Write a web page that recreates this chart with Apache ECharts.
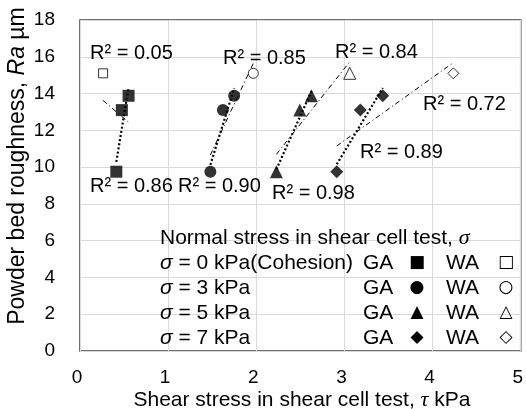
<!DOCTYPE html>
<html><head><meta charset="utf-8">
<script src="https://cdn.jsdelivr.net/npm/echarts@6/dist/echarts.min.js"></script>
<style>html,body{margin:0;padding:0;background:#fff}#c{width:526px;height:409px}</style>
</head><body><div id="c"></div>
<script>
// ---- data ----
const raGA = [9.75, 13.10, 13.88];      // Ra (µm) of the three GA powders
const raWA = [15.10];                   // Ra (µm) of the WA powder
const tauGA0 = [0.412, 0.475, 0.551];   // sigma = 0 kPa (cohesion)
const tauGA3 = [1.479, 1.621, 1.749];   // sigma = 3 kPa
const tauGA5 = [2.228, 2.494, 2.626];   // sigma = 5 kPa
const tauGA7 = [2.913, 3.180, 3.435];   // sigma = 7 kPa
const tauWA0 = [0.262];
const tauWA3 = [1.966];
const tauWA5 = [3.060];
const tauWA7 = [4.236];
const r2GA  = ['R² = 0.86', 'R² = 0.90', 'R² = 0.98', 'R² = 0.89'];
const r2All = ['R² = 0.05', 'R² = 0.85', 'R² = 0.84', 'R² = 0.72'];
const legendRows = ['σ = 0 kPa(Cohesion)', 'σ = 3 kPa', 'σ = 5 kPa', 'σ = 7 kPa'];
const gaGlyphs = ['■', '●', '▲', '◆'];
const waGlyphs = ['□', '○', '△', '◇'];

// ---- layout / style ----
const FONT = "'Liberation Sans', Arial, sans-serif";
const SERIF = "'Liberation Serif', 'Times New Roman', serif";
const gaSym = [['rect', 12], ['circle', 12], ['triangle', 13], ['diamond', 13]];
const waSym = [['rect', 9], ['circle', 10], ['triangle', 12], ['diamond', 11]];
const r2GAPos  = [[90, 186], [178, 186], [272, 193], [360, 152]];
const r2AllPos = [[90, 53], [223, 58], [335, 52], [423, 104]];

function fit(xs, ys) {
  const n = xs.length;
  const mx = xs.reduce((a, b) => a + b, 0) / n;
  const my = ys.reduce((a, b) => a + b, 0) / n;
  let sxy = 0, sxx = 0;
  for (let i = 0; i < n; i++) { sxy += (xs[i] - mx) * (ys[i] - my); sxx += (xs[i] - mx) ** 2; }
  const b = sxy / sxx, a = my - b * mx;
  const x0 = Math.min(...xs), x1 = Math.max(...xs);
  return [[x0, a + b * x0], [x1, a + b * x1]];
}
const zip = (xs, ys) => xs.map((x, i) => [x, ys[i]]);

const gaX = [tauGA0, tauGA3, tauGA5, tauGA7];
const waX = [tauWA0, tauWA3, tauWA5, tauWA7];

const series = [];
for (let k = 0; k < 4; k++) {
  series.push({ type: 'line', data: fit(gaX[k], raGA), symbol: 'none', silent: true, z: 2,
    lineStyle: { color: '#000', width: 2.2, type: [2, 2.2] } });
  series.push({ type: 'line', data: fit(gaX[k].concat(waX[k]), raGA.concat(raWA)), symbol: 'none', silent: true, z: 2,
    lineStyle: { color: '#000', width: 1, type: [5, 3, 1, 3] } });
}
for (let k = 0; k < 4; k++) {
  series.push({ type: 'scatter', data: zip(gaX[k], raGA), symbol: gaSym[k][0], symbolSize: gaSym[k][1], z: 5,
    itemStyle: { color: '#000' } });
  series.push({ type: 'scatter', data: zip(waX[k], raWA), symbol: waSym[k][0], symbolSize: waSym[k][1], z: 5,
    itemStyle: { color: '#fff', borderColor: '#000', borderWidth: 1 } });
}

const graphic = [];
r2GA.forEach((t, i) => graphic.push({ type: 'text', x: r2GAPos[i][0], y: r2GAPos[i][1], z: 10,
  style: { text: t, font: '20px ' + FONT, fill: '#000', verticalAlign: 'middle' } }));
r2All.forEach((t, i) => graphic.push({ type: 'text', x: r2AllPos[i][0], y: r2AllPos[i][1], z: 10,
  style: { text: t, font: '20px ' + FONT, fill: '#000', verticalAlign: 'middle' } }));
// text-box legend
graphic.push({ type: 'text', x: 160, y: 238, z: 10, style: {
  text: 'Normal stress in shear cell test, {s|σ}', font: '21px ' + FONT, fill: '#000', verticalAlign: 'middle',
  rich: { s: { fontStyle: 'italic', fontFamily: SERIF, fontSize: 22 } } } });
legendRows.forEach((t, i) => {
  const y = 263 + i * 25;
  graphic.push({ type: 'text', x: 160, y, z: 10, style: {
    text: '{s|σ}' + t.slice(1), font: '21px ' + FONT, fill: '#000', verticalAlign: 'middle',
    rich: { s: { fontStyle: 'italic', fontFamily: FONT, fontSize: 21 } } } });
  graphic.push({ type: 'text', x: 363, y, z: 10, style: { text: 'GA', font: '21px ' + FONT, fill: '#000', verticalAlign: 'middle' } });
  graphic.push({ type: 'text', x: 417, y, z: 10, style: { text: gaGlyphs[i], font: "17px 'DejaVu Sans'", fill: '#000', align: 'center', verticalAlign: 'middle' } });
  graphic.push({ type: 'text', x: 446, y, z: 10, style: { text: 'WA', font: '21px ' + FONT, fill: '#000', verticalAlign: 'middle' } });
  graphic.push({ type: 'text', x: 506, y, z: 10, style: { text: waGlyphs[i], font: "17px 'DejaVu Sans'", fill: '#000', align: 'center', verticalAlign: 'middle' } });
});
// axis titles
graphic.push({ type: 'text', x: 302, y: 400, z: 10, style: {
  text: 'Shear stress in shear cell test, {s|τ} kPa', font: '21px ' + FONT, fill: '#000', align: 'center', verticalAlign: 'middle',
  rich: { s: { fontStyle: 'italic', fontFamily: SERIF, fontSize: 22 } } } });
graphic.push({ type: 'text', x: 18, y: 166, rotation: Math.PI / 2, z: 10, style: {
  text: 'Powder bed roughness, {i|Ra} µm', font: '23px ' + FONT, fill: '#000', align: 'center', verticalAlign: 'middle',
  rich: { i: { fontStyle: 'italic', fontFamily: FONT, fontSize: 23 } } } });

const chart = echarts.init(document.getElementById('c'), null, { renderer: 'canvas' });
chart.setOption({
  animation: false,
  backgroundColor: '#fff',
  grid: { left: 80, top: 20, right: 1, bottom: 58, show: true, borderColor: '#404040', borderWidth: 1.5, backgroundColor: 'transparent' },
  xAxis: { type: 'value', min: 0, max: 5, interval: 1,
    axisLine: { show: false }, axisTick: { show: false },
    splitLine: { show: true, lineStyle: { color: '#d9d9d9', width: 1 } },
    axisLabel: { fontSize: 19, color: '#000', fontFamily: FONT, margin: 17, padding: [0, 6, 0, 0] } },
  yAxis: { type: 'value', min: 0, max: 18, interval: 2,
    axisLine: { show: false }, axisTick: { show: false },
    splitLine: { show: true, lineStyle: { color: '#d9d9d9', width: 1 } },
    axisLabel: { fontSize: 19, color: '#000', fontFamily: FONT, margin: 25 } },
  series,
  graphic
});
</script></body></html>
